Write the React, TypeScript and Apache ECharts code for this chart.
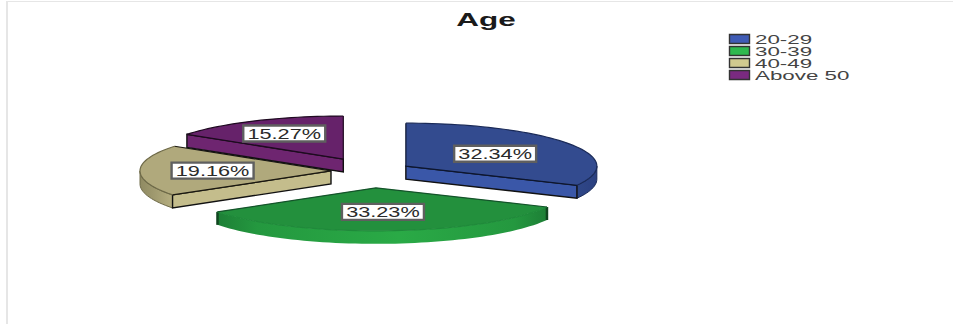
import React, { useEffect, useRef } from "react";
import * as echarts from "echarts";

// Age distribution, in percent
const categories = ["20-29", "30-39", "40-49", "Above 50"];
const shares = [32.34, 33.23, 19.16, 15.27];

// Appearance of each slice, in the order of categories
const topColors = ["#334b8f", "#23903d", "#b0a97c", "#66226a"];
const faceColors = ["#3a57a8", "#27a344", "#c4bd8c", "#6e2570"];
const rimLeft = ["#2f4788", "#1f8a3a", "#8f8a62", "#6e2570"];
const rimRight = ["#2b4080", "#1f8a3a", "#b5ae80", "#5a1f5e"];
const radialEdges = ["#0d1630", "#14532a", "#1a1810", "#1e0a20"];
const arcEdges = ["#1a2a58", "#1f8a3a", "#6e6a48", "#1e0a20"];
const legendColors = ["#3f5bb5", "#2fb84f", "#d0c98f", "#7a2a80"];
const explode = [41, 75, 40, 60];
const labelRadius = [0.55, 0.56, 0.62, 0.67];
// Back slices are painted first so nearer ones overlap them
const drawOrder = [2, 3, 0, 1];

const CX = 371;
const CY = 171;
const RX = 191;
const RY = 43;
const DEPTH = 13;
const TAU = Math.PI / 180;

const rimPoint = (ax: number, ay: number, deg: number) => [
  ax + RX * Math.sin(deg * TAU),
  ay - RY * Math.cos(deg * TAU),
];

const arcPoints = (ax: number, ay: number, from: number, to: number) => {
  const steps = Math.max(2, Math.ceil(Math.abs(to - from) / 2));
  const pts: number[][] = [];
  for (let i = 0; i <= steps; i++) {
    pts.push(rimPoint(ax, ay, from + ((to - from) * i) / steps));
  }
  return pts;
};

const cumulative = (index: number) => shares.slice(0, index).reduce((s, v) => s + v, 0);

function sliceRenderer(index: number) {
  return (_params: unknown, api: any) => {
    const value = api.value(0);
    const start = (cumulative(index) / 100) * 360;
    const end = start + (value / 100) * 360;
    const mid = (start + end) / 2;
    const ax = CX + explode[index] * Math.sin(mid * TAU);
    const ay = CY - explode[index] * (RY / RX) * Math.cos(mid * TAU);
    const children: any[] = [];
    const isGreen = index === 1;

    // Outer wall: only the part of the rim that faces the viewer
    const rimFrom = Math.max(start, 90);
    const rimTo = Math.min(end, 270);
    if (rimTo > rimFrom) {
      const upper = arcPoints(ax, ay, rimFrom, rimTo);
      const lower = upper.map(([x, y]) => [x, y + DEPTH]).reverse();
      const fill = isGreen
        ? new echarts.graphic.LinearGradient(0, 0, 1, 0, [
            { offset: 0, color: "#1d7f36" },
            { offset: 0.12, color: "#24983f" },
            { offset: 0.55, color: "#2aaa46" },
            { offset: 0.9, color: "#24983f" },
            { offset: 1, color: "#1d7f36" },
          ])
        : new echarts.graphic.LinearGradient(0, 0, 1, 0, [
            { offset: 0, color: rimLeft[index] },
            { offset: 1, color: rimRight[index] },
          ]);
      children.push({
        type: "polygon",
        shape: { points: upper.concat(lower) },
        style: { fill, stroke: isGreen ? undefined : arcEdges[index], lineWidth: 1 },
      });
      // The two free ends of the front wall are closed with a dark edge
      if (isGreen) {
        [upper[0], upper[upper.length - 1]].forEach(([x, y]) => {
          children.push({
            type: "line",
            shape: { x1: x, y1: y, x2: x, y2: y + DEPTH },
            style: { stroke: "#10451f", lineWidth: 2.5 },
          });
        });
      }
    }

    // Cut face of the wedge, where the radial edge turns toward the viewer
    const endFaces = end > 0 && end < 180;
    const startFaces = start > 180 && start < 360;
    const faceAngle = endFaces ? end : startFaces ? start : null;
    if (faceAngle !== null) {
      const p = rimPoint(ax, ay, faceAngle);
      children.push({
        type: "polygon",
        shape: {
          points: [
            [ax, ay],
            p,
            [p[0], p[1] + DEPTH],
            [ax, ay + DEPTH],
          ],
        },
        style: { fill: faceColors[index], stroke: "#111111", lineWidth: 1.4 },
      });
    }

    // Upper surface of the wedge, then its curved and straight outlines
    const arc = arcPoints(ax, ay, start, end);
    children.push({
      type: "polygon",
      shape: { points: [[ax, ay], ...arc] },
      style: { fill: topColors[index] },
    });
    children.push({
      type: "polyline",
      shape: { points: arc },
      style: { fill: "none", stroke: arcEdges[index], lineWidth: 1.2 },
    });
    children.push({
      type: "polyline",
      shape: { points: [arc[0], [ax, ay], arc[arc.length - 1]] },
      style: { fill: "none", stroke: radialEdges[index], lineWidth: 1.2 },
    });

    // Percentage tag
    const lx = ax + labelRadius[index] * RX * Math.sin(mid * TAU);
    const ly = ay - labelRadius[index] * RY * Math.cos(mid * TAU);
    children.push({
      type: "rect",
      shape: { x: lx - 41, y: ly - 8, width: 82, height: 16 },
      style: { fill: "#ffffff", stroke: "#5f5f5f", lineWidth: 2.4 },
    });
    children.push({
      type: "text",
      x: lx,
      y: ly + 0.5,
      scaleX: 1.55,
      style: {
        text: `${value.toFixed(2)}%`,
        x: 0,
        y: 0,
        align: "center",
        verticalAlign: "middle",
        font: '14px "Liberation Sans"',
        fill: "#2a2a2a",
      },
    });

    return { type: "group", children };
  };
}

function buildOption() {
  const legendItems = categories.flatMap((name, i) => {
    const rowY = 39 + i * 12;
    return [
      {
        type: "rect",
        shape: { x: 729.5, y: rowY - 4.5, width: 20, height: 9 },
        style: { fill: legendColors[i], stroke: "#333333", lineWidth: 1.4 },
      },
      {
        type: "text",
        x: 755,
        y: rowY,
        scaleX: 1.72,
        style: {
          text: name,
          x: 0,
          y: 0,
          align: "left",
          verticalAlign: "middle",
          font: '13px "Liberation Sans"',
          fill: "#444444",
        },
      },
    ];
  });

  return {
    animation: false,
    backgroundColor: "#ffffff",
    series: drawOrder.map((i) => ({
      type: "custom",
      name: categories[i],
      coordinateSystem: "none",
      silent: true,
      data: [shares[i]],
      renderItem: sliceRenderer(i),
    })),
    graphic: [
      // Faint frame along the top and left
      { type: "rect", shape: { x: 6, y: 1, width: 947, height: 1 }, style: { fill: "#e6e6e6" } },
      { type: "rect", shape: { x: 6, y: 1, width: 2, height: 323 }, style: { fill: "#e6e6e6" } },
      {
        type: "text",
        x: 486,
        y: 20,
        scaleX: 1.75,
        style: {
          text: "Age",
          x: 0,
          y: 0,
          align: "center",
          verticalAlign: "middle",
          font: 'bold 18px "Liberation Sans"',
          fill: "#1a1a1a",
        },
      },
      ...legendItems,
    ],
  };
}

export default function App() {
  const ref = useRef<HTMLDivElement>(null);
  useEffect(() => {
    const chart = echarts.init(ref.current!, undefined, { renderer: "svg" });
    chart.setOption(buildOption() as any);
    return () => chart.dispose();
  }, []);
  return <div ref={ref} style={{ position: "fixed", left: 0, top: 0, width: 953, height: 324 }} />;
}
